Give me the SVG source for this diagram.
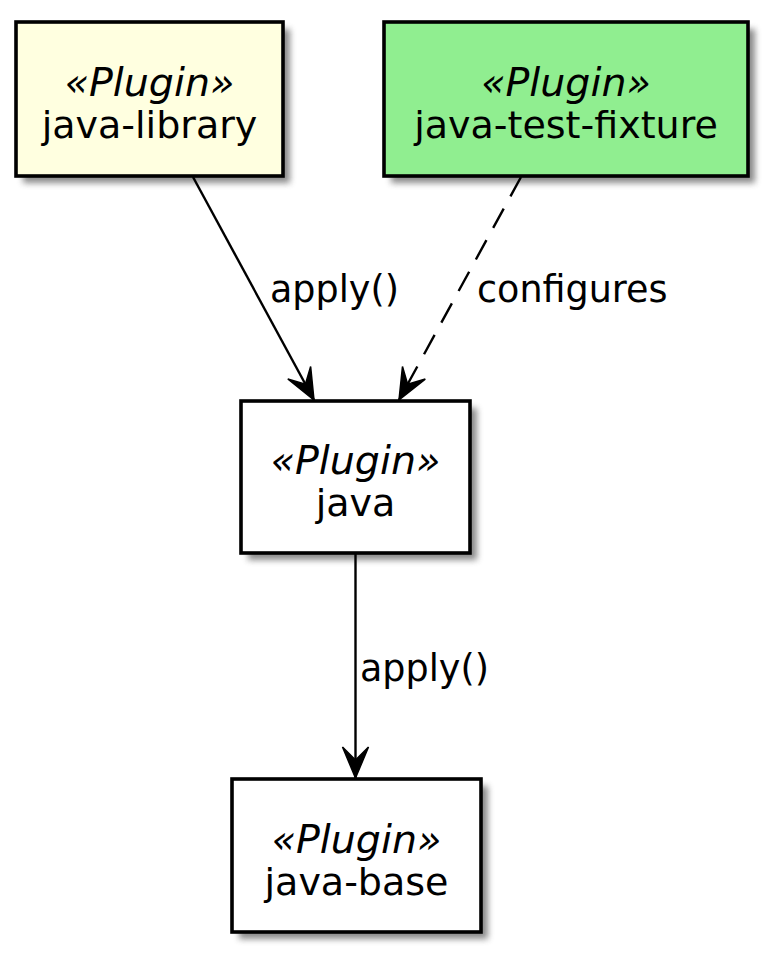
<svg xmlns="http://www.w3.org/2000/svg" width="776" height="961" viewBox="0 0 776 961">
<defs>
<filter id="sh" x="-10%" y="-10%" width="130%" height="130%">
<feGaussianBlur stdDeviation="3"/>
</filter>
<marker id="ah" markerUnits="userSpaceOnUse" viewBox="-32 -15 34 30" markerWidth="34" markerHeight="30" refX="0" refY="0" orient="auto">
<path d="M0,0 L-31,-13 L-18,0 L-31,13 Z" fill="#000" stroke="#000" stroke-width="1.5" stroke-linejoin="miter"/>
</marker>
</defs>
<style>
.box{stroke:#000;stroke-width:3.6}
.shadow{fill:#777;opacity:0.85;filter:url(#sh)}
.st{font-family:"DejaVu Sans",sans-serif;font-style:italic;font-size:39.5px;text-anchor:middle;fill:#000}
.nm{font-family:"DejaVu Sans",sans-serif;font-size:38px;text-anchor:middle;fill:#000}
.lb{font-family:"DejaVu Sans",sans-serif;font-size:36.5px;fill:#000}
.edge{stroke:#000;stroke-width:2.4;fill:none}
</style>
<rect width="776" height="961" fill="#fff"/>

<g id="java-library">
<rect class="shadow" x="23" y="29" width="267" height="154"/>
<rect class="box" x="16" y="22" width="267" height="154" fill="#FFFFE0"/>
<text class="st" x="149.5" y="96">«Plugin»</text>
<text class="nm" x="149.5" y="138">java-library</text>
</g>

<g id="java-test-fixture">
<rect class="shadow" x="391" y="29" width="364" height="154"/>
<rect class="box" x="384" y="22" width="364" height="154" fill="#90EE90"/>
<text class="st" x="566" y="96">«Plugin»</text>
<text class="nm" x="566" y="138">java-test-fixture</text>
</g>

<g id="java">
<rect class="shadow" x="248" y="408" width="229" height="152"/>
<rect class="box" x="241" y="401" width="229" height="152" fill="#fff"/>
<text class="st" x="355.5" y="474">«Plugin»</text>
<text class="nm" x="355.5" y="516">java</text>
</g>

<g id="java-base">
<rect class="shadow" x="239" y="786" width="249" height="153"/>
<rect class="box" x="232" y="779" width="249" height="153" fill="#fff"/>
<text class="st" x="356.5" y="853">«Plugin»</text>
<text class="nm" x="356.5" y="895">java-base</text>
</g>

<g id="connectors">
<line class="edge" x1="193" y1="177" x2="314" y2="400" marker-end="url(#ah)"/>
<line class="edge" x1="521" y1="177" x2="399" y2="400" stroke-dasharray="22,14" marker-end="url(#ah)"/>
<line class="edge" x1="355.5" y1="554" x2="355.5" y2="778" marker-end="url(#ah)"/>
<text class="lb" x="270" y="302">apply()</text>
<text class="lb" x="477" y="302">configures</text>
<text class="lb" x="360" y="681">apply()</text>
</g>
</svg>
